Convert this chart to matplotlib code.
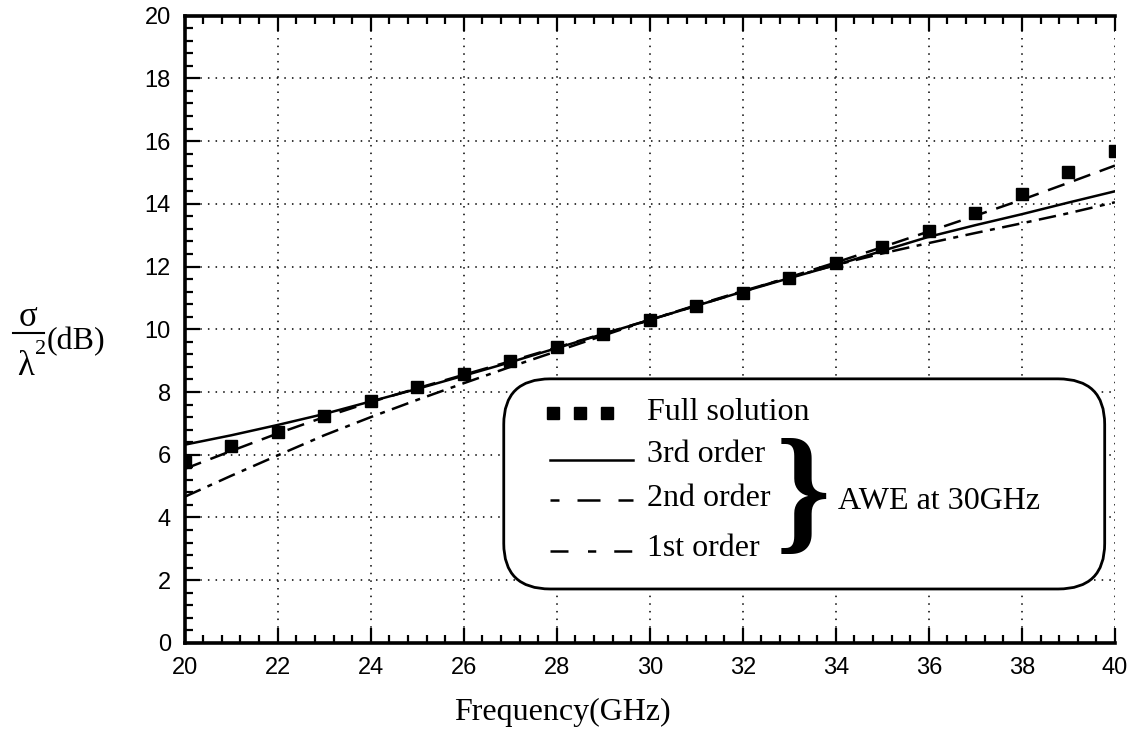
#!/usr/bin/env python3
"""
Plots RCS vs frequency: full solution and AWE approximations at 30GHz
"""
import matplotlib
matplotlib.use("Agg")
import matplotlib.pyplot as plt
import matplotlib.transforms as mtransforms
from matplotlib.lines import Line2D
from matplotlib.patches import FancyBboxPatch
from matplotlib.ticker import MultipleLocator


freq = [20, 21, 22, 23, 24, 25, 26, 27, 28, 29, 30,
        31, 32, 33, 34, 35, 36, 37, 38, 39, 40]
full_solution = [5.77, 6.28, 6.73, 7.25, 7.72, 8.15, 8.58, 9.00, 9.42, 9.85, 10.30,
                 10.75, 11.17, 11.62, 12.10, 12.62, 13.12, 13.70, 14.32, 15.02, 15.70]
awe_3rd = [6.32, 6.62, 6.95, 7.30, 7.70, 8.10, 8.52, 8.95, 9.40, 9.85, 10.30,
           10.75, 11.20, 11.63, 12.05, 12.50, 12.95, 13.32, 13.67, 14.04, 14.40]
awe_2nd = [5.55, 6.12, 6.68, 7.20, 7.68, 8.12, 8.55, 8.98, 9.42, 9.86, 10.30,
           10.75, 11.20, 11.66, 12.13, 12.62, 13.12, 13.62, 14.13, 14.67, 15.22]
awe_1st = [4.66, 5.33, 5.98, 6.62, 7.20, 7.75, 8.28, 8.80, 9.30, 9.80, 10.30,
           10.77, 11.22, 11.65, 12.05, 12.42, 12.75, 13.07, 13.38, 13.70, 14.05]

labels = ["Full solution", "3rd order", "2nd order", "1st order"]
brace_label = "AWE at 30GHz"

serif = "Liberation Serif"
sans = "Liberation Sans"
LW = 1.8
dash2 = (0, (7, 4))
dash1 = (0, (7, 3, 2, 3))
# legend samples look a bit different from the curves
leg_dash2 = (5.6, (9.2, 7.2))
leg_dash1 = (0, (7.2, 7.8, 3.3, 7.2))


def main():
    fig = plt.figure(figsize=(11.40, 7.45), dpi=100)
    ax = fig.add_axes([0.162, 0.137, 0.816, 0.842])

    ax.plot(freq, awe_3rd, color="black", lw=LW, ls="-")
    ax.plot(freq, awe_2nd, color="black", lw=LW, ls=dash2)
    ax.plot(freq, awe_1st, color="black", lw=LW, ls=dash1)
    ax.plot(freq, full_solution, ls="none", marker="s", ms=8, color="black")

    ax.set_xlim(20, 40)
    ax.set_ylim(0, 20)
    ax.xaxis.set_major_locator(MultipleLocator(2))
    ax.xaxis.set_minor_locator(MultipleLocator(0.4))
    ax.yaxis.set_major_locator(MultipleLocator(2))
    ax.yaxis.set_minor_locator(MultipleLocator(0.4))
    ax.grid(True, which="major", color="black", ls=(0, (1, 4)), lw=1.1)

    ax.tick_params(which="both", direction="in", top=True, right=False,
                   width=1.6, labelsize=17, pad=10)
    ax.tick_params(which="major", length=11)
    ax.tick_params(which="minor", length=6)
    for lab in ax.get_xticklabels() + ax.get_yticklabels():
        lab.set_family(sans)
    for side in ["left", "bottom", "top"]:
        ax.spines[side].set_linewidth(2.6)
    ax.spines["right"].set_visible(False)

    # legend box drawn by hand
    box = FancyBboxPatch((26.86, 1.72), 39.78 - 26.86, 8.42 - 1.72,
                         boxstyle="round,pad=0,rounding_size=1.0",
                         mutation_aspect=1.45,
                         fc="white", ec="black", lw=2.0, zorder=5)
    ax.add_patch(box)

    ax.plot([27.91, 28.49, 29.09], [7.34, 7.34, 7.34], ls="none", marker="s",
            ms=8, color="black", zorder=6)
    ax.plot([27.85, 29.63], [5.84, 5.84], color="black", lw=LW, zorder=6)
    ax.plot([27.85, 29.63], [4.56, 4.56], color="black", lw=LW, ls=leg_dash2, zorder=6)
    ax.plot([27.85, 29.63], [2.93, 2.93], color="black", lw=LW, ls=leg_dash1, zorder=6)

    ys = [7.34, 6.0, 4.6, 3.0]
    for lab, y in zip(labels, ys):
        ax.text(29.94, y, lab, family=serif, fontsize=23, va="center",
                ha="left", zorder=7)
    ax.text(33.3, 4.5, "}", family=serif, fontsize=100, fontweight="bold",
            va="center", ha="center", zorder=7)
    ax.text(34.04, 4.5, brace_label, family=serif, fontsize=23,
            va="center", ha="left", zorder=7)

    trans = mtransforms.blended_transform_factory(ax.transData, fig.transFigure)
    ax.text(28.13, 1 - 712 / 745, "Frequency(GHz)", family=serif, fontsize=23,
            ha="center", va="center", transform=trans)

    # y label: sigma over lambda squared (dB)
    W, H = 1140, 745
    fig.text(28 / W, 1 - 318 / H, "σ", family=serif, fontsize=25,
             ha="center", va="center")
    fig.add_artist(Line2D([13 / W, 44 / W], [1 - 333 / H, 1 - 333 / H],
                          transform=fig.transFigure, color="black", lw=1.5))
    fig.text(26 / W, 1 - 366 / H, "λ", family=serif, fontsize=25,
             ha="center", va="center")
    fig.text(41 / W, 1 - 350 / H, "2", family=serif, fontsize=16,
             ha="center", va="center")
    fig.text(47 / W, 1 - 342 / H, "(dB)", family=serif, fontsize=23,
             ha="left", va="center")

    fig.savefig("out.png", dpi=100)


if __name__ == '__main__':
    main()
